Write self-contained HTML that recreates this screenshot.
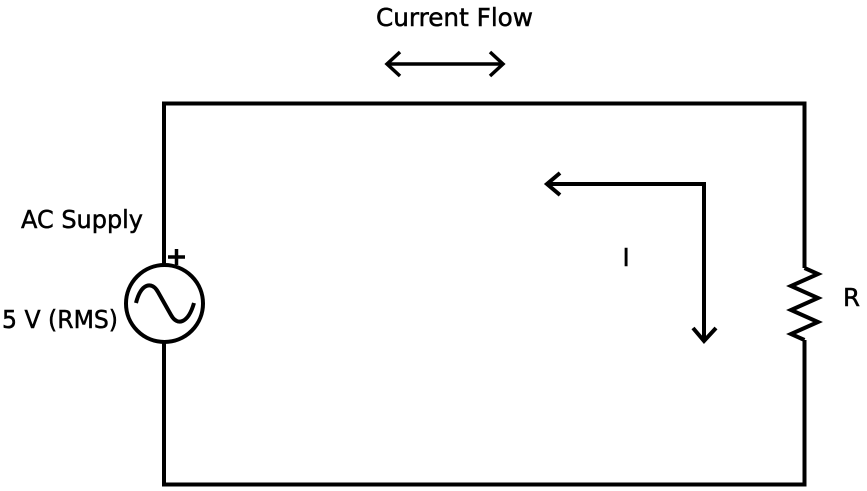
<!DOCTYPE html>
<html>
<head>
<meta charset="utf-8">
<style>
  html, body { margin:0; padding:0; background:#fff; }
  svg { display:block; }
  text { font-family: "DejaVu Sans", "Liberation Sans", sans-serif; font-size:24.5px; fill:#000; stroke:#000; stroke-width:0.5px; }
</style>
</head>
<body>
<svg width="867" height="491" viewBox="0 0 867 491" xmlns="http://www.w3.org/2000/svg">
  <g fill="none" stroke="#000" stroke-width="4" stroke-linejoin="miter" stroke-linecap="butt">
    <!-- circuit wires -->
    <polyline points="164,265 164,103.5 804.5,103.5 804.5,268"/>
    <polyline points="804.5,340 804.5,484.5 164,484.5 164,342"/>
    <!-- resistor -->
    <polyline points="804.5,268 818,274 791,286 818,298 791,310 818,322 791,334 804.5,340"/>
    <!-- AC source -->
    <circle cx="164.5" cy="303.5" r="38.5"/>
    <path d="M136,303 C141,283 152,281 158,292 L171,315 C177,326 188,324 194,303"/>
    <!-- plus -->
    <line x1="168" y1="257" x2="185" y2="257" stroke-width="3.5"/>
    <line x1="176.5" y1="249" x2="176.5" y2="265" stroke-width="3.5"/>
    <!-- current flow arrow -->
    <line x1="387" y1="64" x2="503" y2="64" stroke-width="3.5"/>
    <polyline points="400,52 387,64 400,76" stroke-width="3.5"/>
    <polyline points="490,52 503,64 490,76" stroke-width="3.5"/>
    <!-- I arrow -->
    <polyline points="547,184 704,184 704,341"/>
    <polyline points="560,173 547,184 560,195"/>
    <polyline points="693,328 704,341 716,328"/>
  </g>
  <text x="376" y="26" textLength="157" lengthAdjust="spacingAndGlyphs">Current Flow</text>
  <text x="21" y="228" textLength="122" lengthAdjust="spacingAndGlyphs">AC Supply</text>
  <text x="2" y="328" textLength="116" lengthAdjust="spacingAndGlyphs">5 V (RMS)</text>
  <text x="622.5" y="266">I</text>
  <text x="843" y="306">R</text>
</svg>
</body>
</html>
